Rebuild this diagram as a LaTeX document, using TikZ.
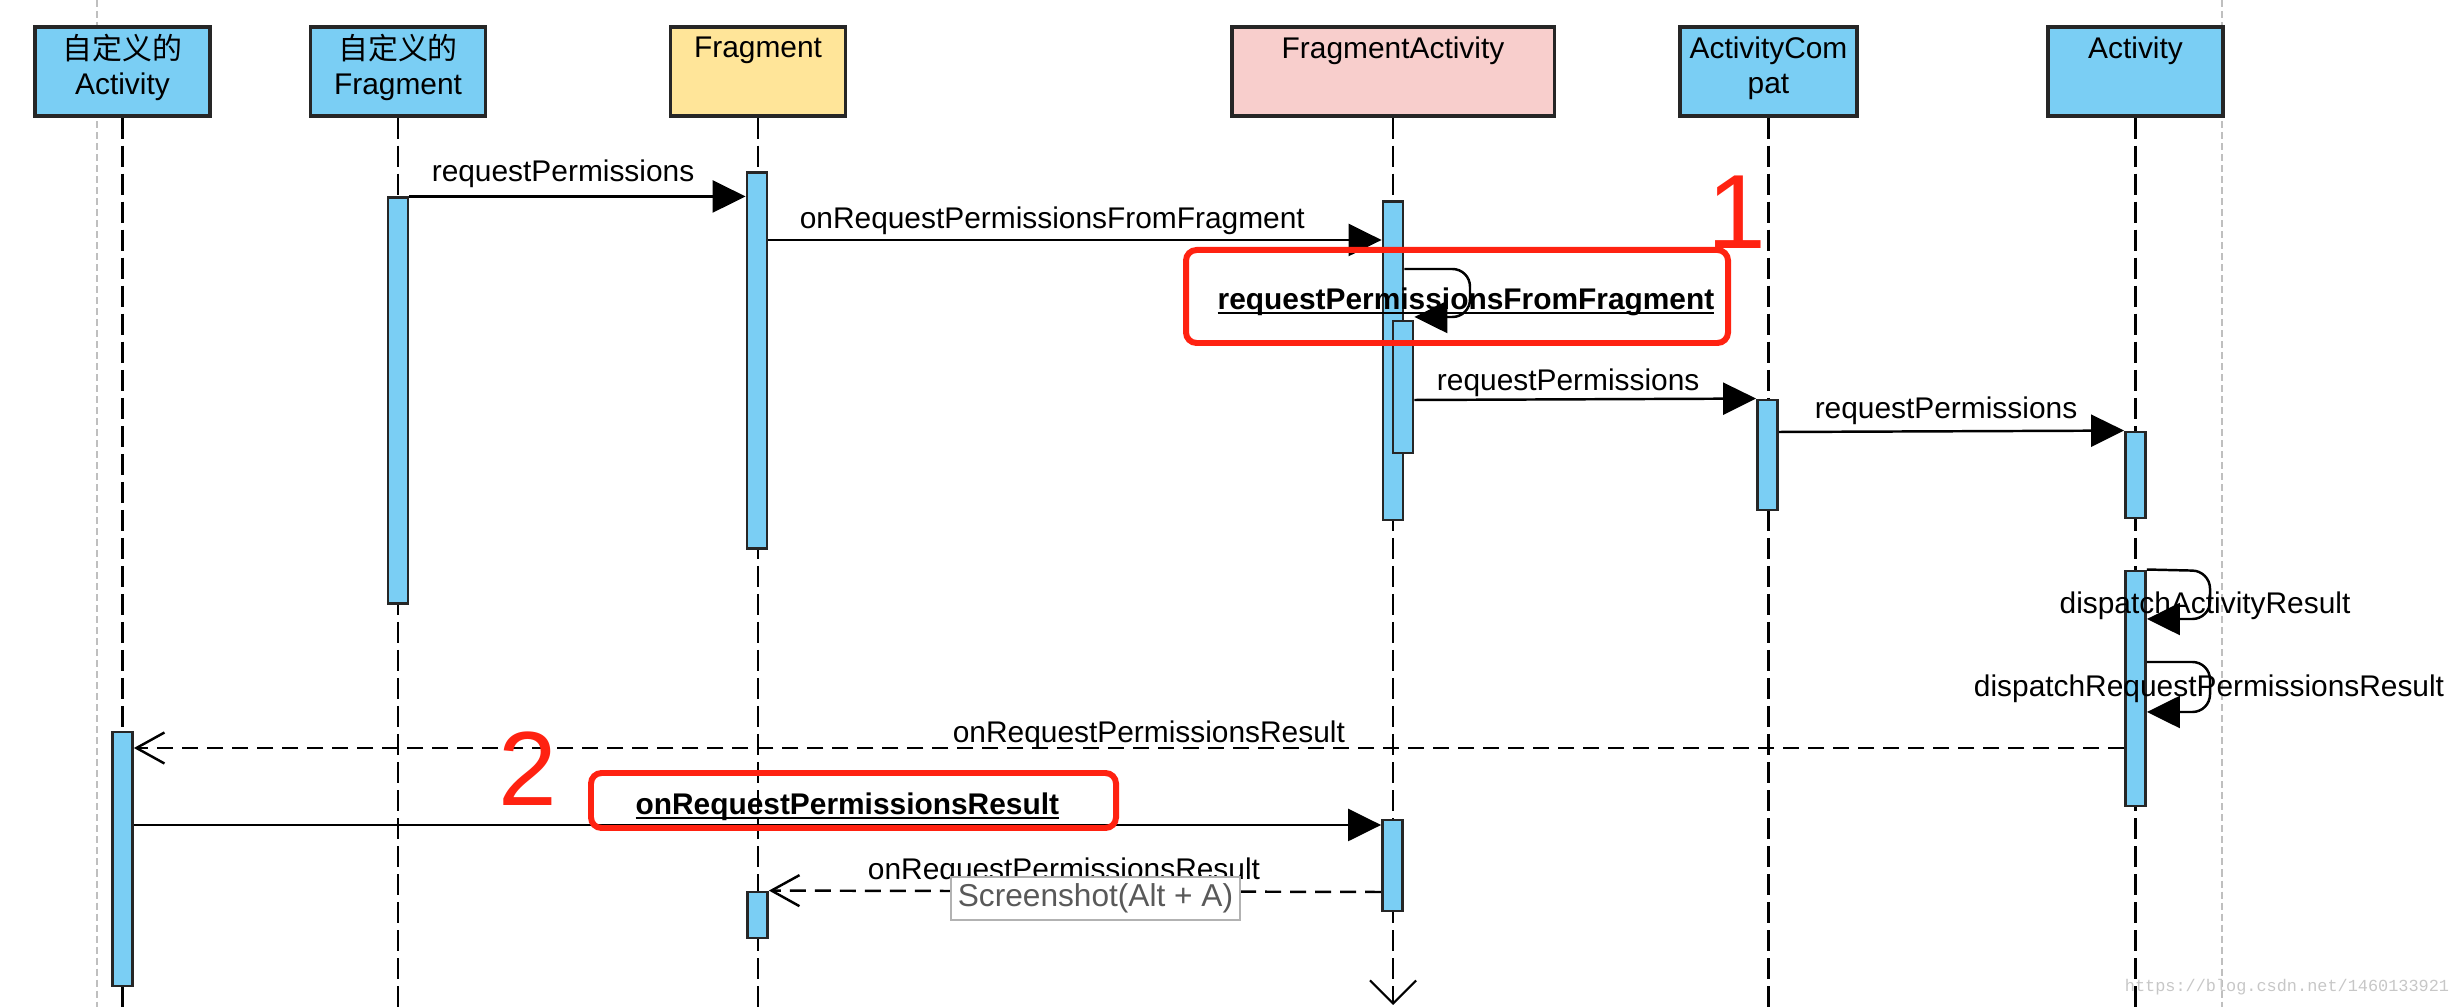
\documentclass[tikz,border=0pt]{standalone}
\usepackage{fontspec}
\setmainfont{Liberation Sans}
\setmonofont{Liberation Mono}
\newfontfamily\cjk{Noto Sans CJK SC}
\usetikzlibrary{arrows.meta,positioning}

\definecolor{barblue}{RGB}{122,206,244}
\definecolor{fragyellow}{RGB}{255,229,153}
\definecolor{actpink}{RGB}{248,206,204}
\definecolor{markred}{RGB}{255,34,17}

% underline sitting just under the baseline
\newcommand\undertext[1]{\setbox0\hbox{#1}\rlap{\rule[-1.3pt]{\wd0}{0.55pt}}\box0}

\begin{document}
\begin{tikzpicture}[
  x=0.01cm, y=-0.01cm,
  font=\fontsize{8.5}{10}\selectfont,
  headbox/.style={draw=black!85, line width=0.9pt, fill=barblue,
    minimum width=1.75cm, minimum height=0.89cm, inner sep=0pt},
  headtxt/.style={anchor=north, align=center, inner sep=0pt, yshift=-0.11cm},
  life/.style={line width=0.6pt, dash pattern=on 0.21cm off 0.07cm},
  guide/.style={black!25, line width=0.6pt, dash pattern=on 0.07cm off 0.04cm},
  bar/.style={draw=black!85, line width=0.8pt, fill=barblue,
    minimum width=0.2cm, inner sep=0pt},
  call/.style={line width=0.7pt, -{Triangle[length=0.33cm,width=0.32cm]}},
  reply/.style={line width=0.7pt, dash pattern=on 0.16cm off 0.09cm,
    -{Straight Barb[length=0.28cm,width=0.31cm]}},
  self/.style={call, rounded corners=5pt},
  ulabel/.style={font=\fontsize{8.5}{10}\selectfont\bfseries},
  redmark/.style={draw=markred, line width=1.7pt, rounded corners=3pt},
  rednum/.style={text=markred, inner sep=0pt, font=\fontsize{30}{30}\selectfont},
  shot/.style={draw=black!30, line width=0.4pt, fill=white, text=black!65,
    minimum width=2.89cm, minimum height=0.43cm, inner sep=0pt,
    font=\fontsize{9}{10}\selectfont}
]
  \useasboundingbox (0,0) rectangle (2460,1007);

  % grey page guides
  \draw[guide] (97,0) -- (97,1007);
  \draw[guide] (2222,0) -- (2222,1007);

  % lifeline heads
  \node[headbox] (ca) at (122.5,71.5) {};
  \node[headbox] (cf) at (398,71.5) {};
  \node[headbox, fill=fragyellow] (fr) at (758,71.5) {};
  \node[headbox, fill=actpink, minimum width=3.22cm] (fa) at (1393,71.5) {};
  \node[headbox, minimum width=1.77cm] (ac) at (1768.5,71.5) {};
  \node[headbox] (act) at (2135.5,71.5) {};

  \node[headtxt, yshift=0.03cm] (caTxt) at (ca.north) {{\cjk 自定义的}\\Activity};
  \node[headtxt, yshift=0.03cm] (cfTxt) at (cf.north) {{\cjk 自定义的}\\Fragment};
  \node[headtxt] (frTxt) at (fr.north) {Fragment};
  \node[headtxt] (faTxt) at (fa.north) {FragmentActivity};
  \node[headtxt] (acTxt) at (ac.north) {ActivityCom\\pat};
  \node[headtxt] (actTxt) at (act.north) {Activity};

  % lifelines
  \foreach \h in {ca,cf,fr,ac,act}
    \draw[life] (\h.south) -- (\h.south |- 0,1007);
  \draw[life, -{Straight Barb[length=0.23cm,width=0.46cm]}] (fa.south) -- (fa.south |- 0,1005);

  % activation bars
  \node[bar, minimum height=4.05cm] (cfBar) at (398,400.5) {};
  \node[bar, minimum height=3.75cm] (fBar) at (757,360.5) {};
  \node[bar, minimum height=3.18cm] (faBar) at (1393,361) {};
  \node[bar, minimum height=1.32cm] (faSub) at (1403,387) {};
  \node[bar, minimum height=1.10cm] (acBar) at (1767.5,455) {};
  \node[bar, minimum height=0.86cm] (aBar1) at (2135.5,475) {};
  \node[bar, minimum height=2.35cm] (aBar2) at (2135.5,688.5) {};
  \node[bar, minimum height=2.54cm] (caBar) at (122.5,859) {};
  \node[bar, minimum height=0.46cm] (fBar2) at (757.5,915) {};
  \node[bar, minimum height=0.91cm] (faBar2) at (1392.5,865.5) {};

  % messages
  \draw[call] (cfBar.north east) -- node[above=-1.3pt, pos=.457] {requestPermissions}
    (cfBar.north east -| fBar.west);
  \draw[call] (fBar.east |- 0,240) -- node[above=-2.2pt, pos=.463] {onRequestPermissionsFromFragment}
    (faBar.west |- 0,240);
  \draw[self] (faBar.east |- 0,269) -- (1470,269) -- (1470,317) -- (faSub.east |- 0,317);
  \node[ulabel] (rpfLbl) at (1466,302) {\undertext{requestPermissionsFromFragment}};
  \draw[call] (faSub.east |- 0,400) -- node[above=-3pt, pos=.45] {requestPermissions} (acBar.north west);
  \draw[call] (acBar.east |- 0,432) -- node[above=-1.8pt, pos=.484] {requestPermissions} (aBar1.north west);

  \draw[self] (aBar2.north east) -- (2210,571) -- (2210,619) -- (aBar2.east |- 0,619);
  \node (darLbl) at (2205,606) {dispatchActivityResult};
  \draw[self] (aBar2.east |- 0,662) -- (2210,662) -- (2210,712) -- (aBar2.east |- 0,712);
  \node (drprLbl) at (2209,689) {dispatchRequestPermissionsResult};

  \draw[reply] (aBar2.west |- 0,748) -- node[above=-4pt, pos=.49] {onRequestPermissionsResult}
    (caBar.east |- 0,748);
  \draw[call] (caBar.east |- 0,825) -- node[ulabel, above=-2.5pt, pos=.572] {\undertext{onRequestPermissionsResult}}
    (faBar2.west |- 0,825);
  \draw[reply] (faBar2.west |- 0,892) -- node[above=-2pt, pos=.518] {onRequestPermissionsResult}
    (fBar2.north east);

  % red marks
  \draw[redmark] (1186,250) rectangle (1728,343);
  \node[rednum] (one) at (1737,212) {1};
  \draw[redmark] (591,773) rectangle (1116,828);
  \node[rednum] (two) at (528,769) {2};

  \node[shot] (shotTip) at (1095.5,898.5) {Screenshot(Alt + A)};
  \node[text=black!22, font=\ttfamily\fontsize{4.8}{5}\selectfont] (wm) at (2287,987)
    {https://blog.csdn.net/1460133921};
\end{tikzpicture}
\end{document}
